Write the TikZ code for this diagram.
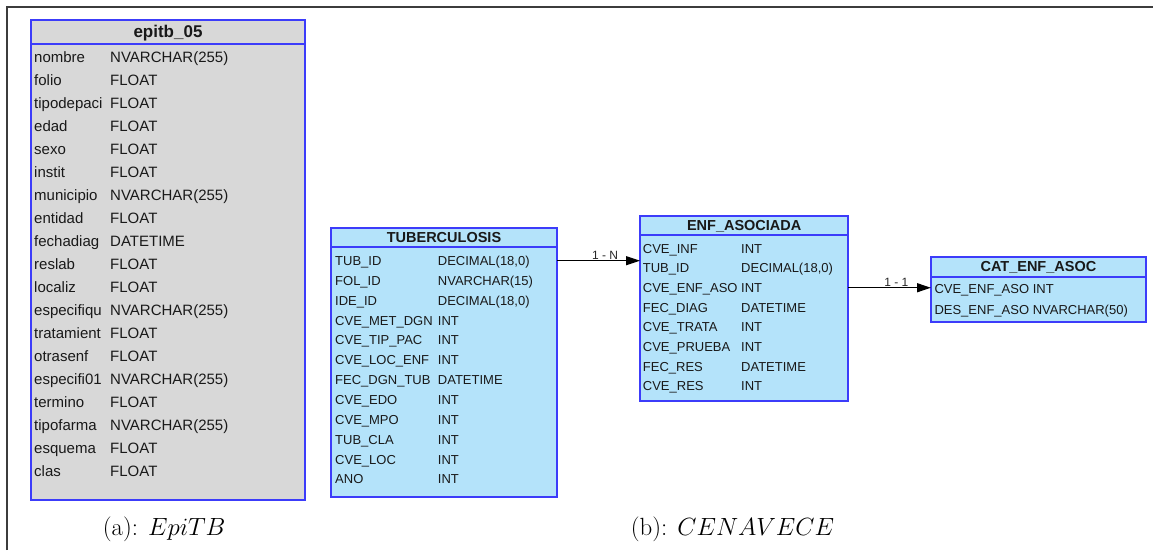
\documentclass[tikz,border=0pt]{standalone}
\usepackage{fontspec}
\newfontfamily\tabfont{Liberation Sans}
\usetikzlibrary{arrows.meta}
\definecolor{tblue}{RGB}{60,60,250}
\definecolor{tfill}{RGB}{180,227,250}
\definecolor{gfill}{RGB}{216,216,216}
\definecolor{ttext}{RGB}{25,25,25}
\definecolor{framec}{RGB}{60,60,60}
\begin{document}
\begin{tikzpicture}[x=1pt,y=-1pt,
  tbox/.style={draw=tblue, line width=2pt, anchor=north west, inner sep=0pt, outer sep=0pt},
  sepline/.style={draw=tblue, line width=1.6pt},
  hdrL/.style={anchor=base, inner sep=0pt, text=ttext, font=\tabfont\bfseries\fontsize{17}{20}\selectfont},
  hdrS/.style={anchor=base, inner sep=0pt, text=ttext, font=\tabfont\bfseries\fontsize{14.5}{17}\selectfont},
  rowL/.style={anchor=west, inner sep=0pt, text=ttext, text height=11pt, text depth=0pt, font=\tabfont\fontsize{15}{18}\selectfont},
  rowS/.style={anchor=west, inner sep=0pt, text=ttext, text height=9.6pt, text depth=0pt, font=\tabfont\fontsize{13}{16}\selectfont},
  conn/.style={draw=black, line width=1.2pt, -{Triangle[length=14pt,width=9pt]}},
  rel/.style={anchor=base, inner sep=0pt, text=black!85, font=\tabfont\fontsize{12}{14}\selectfont},
  captxt/.style={anchor=base, inner sep=0pt, font=\fontsize{24.88}{30}\selectfont},
  framel/.style={draw=framec, line width=1.6pt},
]
\useasboundingbox (0,0) rectangle (1153,550);
\draw[framel] (7,550) -- (7,7) -- (1153,7);

% epitb_05
\node[tbox, fill=gfill, minimum width=274pt, minimum height=480pt] (epi) at (31,20) {};
\draw[sepline] (31,44) -- (305,44);
\node[hdrL] (epiH) at (168,37) {epitb\_05};
\foreach \a/\b [count=\i from 0] in {nombre/NVARCHAR(255), folio/FLOAT, tipodepaci/FLOAT, edad/FLOAT, sexo/FLOAT, instit/FLOAT, municipio/NVARCHAR(255), entidad/FLOAT, fechadiag/DATETIME, reslab/FLOAT, localiz/FLOAT, especifiqu/NVARCHAR(255), tratamient/FLOAT, otrasenf/FLOAT, especifi01/NVARCHAR(255), termino/FLOAT, tipofarma/NVARCHAR(255), esquema/FLOAT, clas/FLOAT} {
  \node[rowL] (epi-a\i) at (34,57+23*\i) {\a};
  \node[rowL] (epi-b\i) at (110,57+23*\i) {\b};
}

% TUBERCULOSIS
\node[tbox, fill=tfill, minimum width=226pt, minimum height=268.4pt] (tub) at (331,228.3) {};
\draw[sepline] (331,246.7) -- (557,246.7);
\node[hdrS] (tubH) at (444,242.5) {TUBERCULOSIS};
\foreach \a/\b [count=\i from 0] in {{TUB\_ID/DECIMAL(18,0)}, FOL\_ID/NVARCHAR(15), {IDE\_ID/DECIMAL(18,0)}, CVE\_MET\_DGN/INT, CVE\_TIP\_PAC/INT, CVE\_LOC\_ENF/INT, FEC\_DGN\_TUB/DATETIME, CVE\_EDO/INT, CVE\_MPO/INT, TUB\_CLA/INT, CVE\_LOC/INT, ANO/INT} {
  \node[rowS] (tub-a\i) at (335,260.7+19.85*\i) {\a};
  \node[rowS] (tub-b\i) at (437.7,260.7+19.85*\i) {\b};
}

% ENF_ASOCIADA
\node[tbox, fill=tfill, minimum width=208.3pt, minimum height=185pt] (enf) at (640,215.7) {};
\draw[sepline] (640,235) -- (848.3,235);
\node[hdrS] (enfH) at (744.2,230) {ENF\_ASOCIADA};
\foreach \a/\b [count=\i from 0] in {CVE\_INF/INT, {TUB\_ID/DECIMAL(18,0)}, CVE\_ENF\_ASO/INT, FEC\_DIAG/DATETIME, CVE\_TRATA/INT, CVE\_PRUEBA/INT, FEC\_RES/DATETIME, CVE\_RES/INT} {
  \node[rowS] (enf-a\i) at (642.7,248.5+19.62*\i) {\a};
  \node[rowS] (enf-b\i) at (741,248.5+19.62*\i) {\b};
}

% CAT_ENF_ASOC
\node[tbox, fill=tfill, minimum width=214.7pt, minimum height=65pt] (cat) at (931,256.7) {};
\draw[sepline] (931,276.7) -- (1145.7,276.7);
\node[hdrS] (catH) at (1038.4,271) {CAT\_ENF\_ASOC};
\node[rowS] (cat-a0) at (934.3,288.5) {CVE\_ENF\_ASO INT};
\node[rowS] (cat-a1) at (934.3,309.2) {DES\_ENF\_ASO NVARCHAR(50)};

% relations
\draw[conn] (tub-a0 -| tub.east) -- node[rel, pos=0.58, yshift=1.4pt] (relA) {1 - N} (tub-a0 -| enf.west);
\draw[conn] (enf-a2 -| enf.east) -- node[rel, pos=0.58, yshift=1pt] (relB) {1 - 1} (enf-a2 -| cat.west);

% captions
\node[captxt] (capA) at (164.2,535) {(a): $EpiTB$};
\node[captxt] (capB) at (732.5,535) {(b): $CENAVECE$};
\end{tikzpicture}
\end{document}
